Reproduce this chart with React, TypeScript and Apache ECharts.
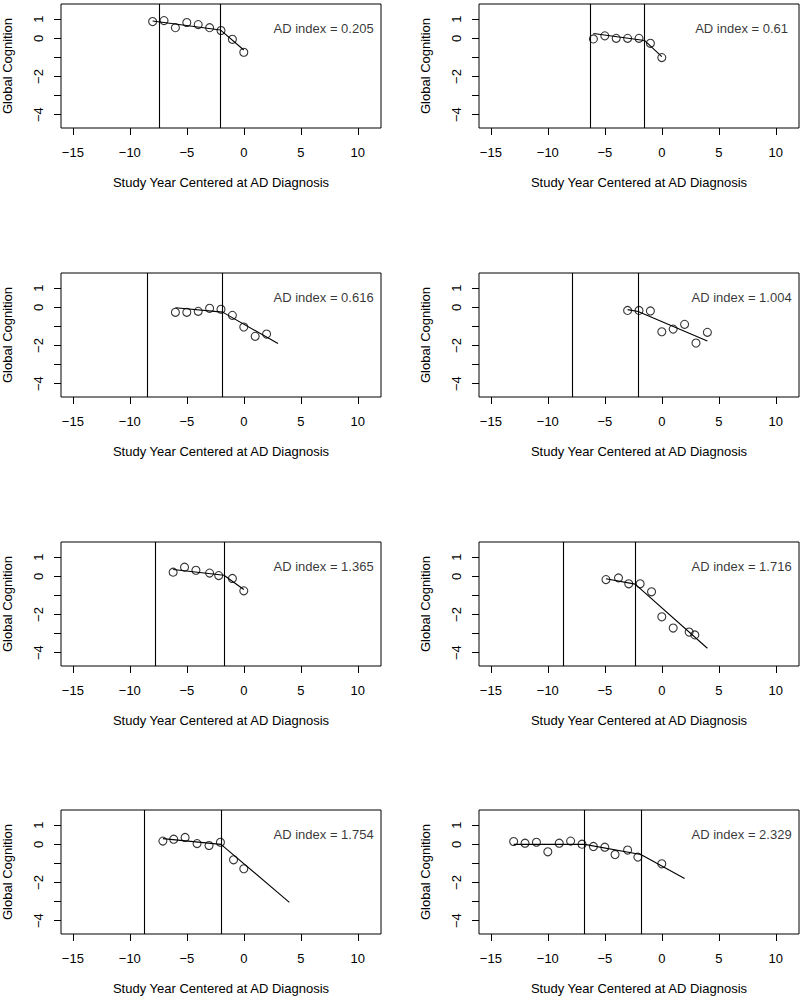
import React, { useEffect, useRef } from "react";
import * as echarts from "echarts";

const xTicks = [-15, -10, -5, 0, 5, 10];
const yTicks = [-4, -3, -2, -1, 0, 1];
const yTickLabels = [-4, -2, 0, 1];

const adIndex = ["0.205", "0.61", "0.616", "1.004", "1.365", "1.716", "1.754", "2.329"];

const obs1 = [[-8, 0.88], [-7, 0.93], [-6, 0.56], [-5, 0.83], [-4, 0.72], [-3, 0.56], [-2, 0.41], [-1, -0.05], [0, -0.73]];
const fit1 = [[-8, 0.91], [-2.06, 0.44], [0, -0.61]];
const bounds1 = [-7.44, -2.06];

const obs2 = [[-6, -0.03], [-5, 0.13], [-4, 0], [-3, 0], [-2, 0], [-1, -0.26], [0, -1.01]];
const fit2 = [[-6, 0.25], [-1.52, -0.11], [0, -0.96]];
const bounds2 = [-6.25, -1.52];

const obs3 = [[-6, -0.26], [-5, -0.26], [-4, -0.21], [-3, -0.05], [-2, -0.1], [-1, -0.42], [0, -1.03], [1, -1.52], [2, -1.4]];
const fit3 = [[-6, -0.02], [-1.86, -0.25], [3, -1.9]];
const bounds3 = [-8.49, -1.86];

const obs4 = [[-3, -0.16], [-2, -0.16], [-1, -0.19], [0, -1.28], [1, -1.14], [2, -0.89], [3, -1.87], [4, -1.31]];
const fit4 = [[-3, -0.12], [-2.08, -0.22], [4, -1.77]];
const bounds4 = [-7.88, -2.08];

const obs5 = [[-6.2, 0.22], [-5.2, 0.48], [-4.2, 0.32], [-3, 0.17], [-2.2, 0.04], [-1, -0.11], [0, -0.76]];
const fit5 = [[-6.2, 0.36], [-1.74, 0.06], [0, -0.69]];
const bounds5 = [-7.79, -1.74];

const obs6 = [[-4.9, -0.17], [-3.8, -0.08], [-2.9, -0.39], [-1.9, -0.39], [-0.9, -0.81], [0, -2.12], [1, -2.71], [2.4, -2.92], [2.9, -3.07]];
const fit6 = [[-4.9, -0.13], [-2.34, -0.41], [4, -3.77]];
const bounds6 = [-8.67, -2.34];

const obs7 = [[-7.1, 0.17], [-6.15, 0.27], [-5.15, 0.36], [-4.1, 0.04], [-3.05, -0.06], [-2.05, 0.11], [-0.9, -0.81], [0, -1.28]];
const fit7 = [[-7.1, 0.3], [-2, 0.0], [4, -3.04]];
const bounds7 = [-8.72, -2.0];

const obs8 = [[-13, 0.15], [-12, 0.06], [-11, 0.11], [-10, -0.39], [-9, 0.06], [-8, 0.17], [-7, 0.01], [-6, -0.11], [-5, -0.15], [-4.1, -0.53], [-3, -0.3], [-2.1, -0.67], [0, -1.02]];
const fit8 = [[-13, 0.0], [-6.77, 0.0], [-1.84, -0.53], [2, -1.79]];
const bounds8 = [-6.77, -1.84];

const panels = [
  { obs: obs1, fit: fit1, bounds: bounds1 },
  { obs: obs2, fit: fit2, bounds: bounds2 },
  { obs: obs3, fit: fit3, bounds: bounds3 },
  { obs: obs4, fit: fit4, bounds: bounds4 },
  { obs: obs5, fit: fit5, bounds: bounds5 },
  { obs: obs6, fit: fit6, bounds: bounds6 },
  { obs: obs7, fit: fit7, bounds: bounds7 },
  { obs: obs8, fit: fit8, bounds: bounds8 },
];

const labelPos = [7, 0.5];

const FONT = "'Liberation Sans', Arial, Helvetica, sans-serif";
const minus = (v: number) => String(v).replace("-", "\u2212");

export default function App() {
  const ref = useRef<HTMLDivElement>(null);
  useEffect(() => {
    if (!ref.current) return;
    const chart = echarts.init(ref.current, null, { renderer: "svg" });
    const colLeft = [61, 479];
    const rowTop = [4, 273, 542, 810];
    const grids: any[] = [];
    const xAxes: any[] = [];
    const yAxes: any[] = [];
    const series: any[] = [];
    panels.forEach((p, i) => {
      const col = i % 2;
      const row = Math.floor(i / 2);
      grids.push({
        left: colLeft[col],
        top: rowTop[row],
        width: 320,
        height: 124,
        show: true,
        borderColor: "#000",
        borderWidth: 1,
        backgroundColor: "transparent",
      });
      xAxes.push({
        type: "value",
        gridIndex: i,
        position: "bottom",
        min: -16.04,
        max: 12.04,
        axisLine: { show: false, onZero: false },
        axisTick: { show: true, customValues: xTicks, length: 7, lineStyle: { color: "#000" } },
        axisLabel: {
          customValues: xTicks,
          color: "#000",
          fontSize: 13,
          fontFamily: FONT,
          margin: 18,
          formatter: (v: number) => minus(v),
        },
        splitLine: { show: false },
        name: "Study Year Centered at AD Diagnosis",
        nameLocation: "middle",
        nameGap: 48,
        nameTextStyle: { color: "#000", fontSize: 13, fontFamily: FONT },
      });
      yAxes.push({
        type: "value",
        gridIndex: i,
        position: "left",
        min: -4.7,
        max: 1.8,
        axisLine: { show: false, onZero: false },
        axisTick: { show: true, customValues: yTicks, length: 7, lineStyle: { color: "#000" } },
        axisLabel: {
          customValues: yTickLabels,
          rotate: 90,
          color: "#000",
          fontSize: 13,
          fontFamily: FONT,
          margin: 16,
          formatter: (v: number) => minus(v),
        },
        splitLine: { show: false },
        name: "Global Cognition",
        nameLocation: "middle",
        nameGap: 47,
        nameTextStyle: { color: "#000", fontSize: 13, fontFamily: FONT },
      });
      series.push({
        type: "line",
        xAxisIndex: i,
        yAxisIndex: i,
        data: p.fit,
        showSymbol: false,
        symbol: "none",
        lineStyle: { color: "#000", width: 1.1 },
        silent: true,
        markLine: {
          silent: true,
          symbol: ["none", "none"],
          label: { show: false },
          lineStyle: { color: "#000", width: 1.1, type: "solid" },
          data: p.bounds.map((b) => ({ xAxis: b })),
        },
      });
      series.push({
        type: "scatter",
        xAxisIndex: i,
        yAxisIndex: i,
        data: p.obs,
        symbol: "circle",
        symbolSize: 8,
        itemStyle: { color: "rgba(0,0,0,0)", borderColor: "#000", borderWidth: 1.1 },
        silent: true,
      });
      series.push({
        type: "scatter",
        xAxisIndex: i,
        yAxisIndex: i,
        data: [labelPos],
        symbolSize: 0,
        silent: true,
        label: {
          show: true,
          position: "inside",
          formatter: "AD index = " + adIndex[i],
          color: "#000",
          fontSize: 13,
          fontFamily: FONT,
        },
      });
    });
    chart.setOption({
      animation: false,
      backgroundColor: "#fff",
      textStyle: { fontFamily: FONT },
      grid: grids,
      xAxis: xAxes,
      yAxis: yAxes,
      series,
    });
    return () => chart.dispose();
  }, []);
  return (
    <div
      ref={ref}
      style={{ position: "absolute", left: 0, top: 0, width: 800, height: 1001 }}
    />
  );
}
